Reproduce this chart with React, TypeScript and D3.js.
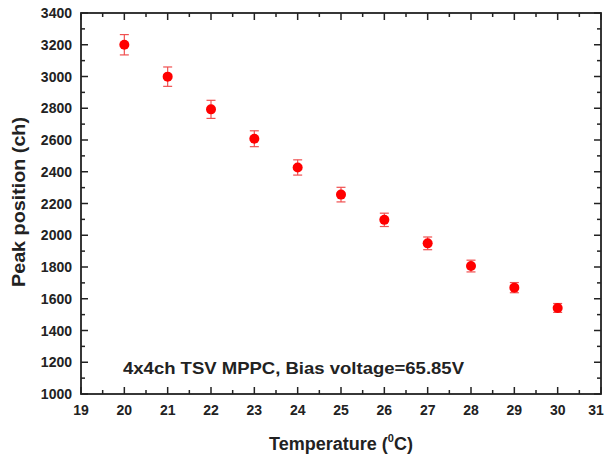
import React from "react";
import * as d3 from "d3";

const temperatures = [20, 21, 22, 23, 24, 25, 26, 27, 28, 29, 30];
const peakPositions = [3200, 2999, 2793, 2608, 2427, 2256, 2097, 1949, 1806, 1670, 1542];
const peakErrors = [64, 61, 57, 50, 48, 46, 42, 40, 37, 32, 28];
const xTicks = [19, 20, 21, 22, 23, 24, 25, 26, 27, 28, 29, 30, 31];
const yTicks = [1000, 1200, 1400, 1600, 1800, 2000, 2200, 2400, 2600, 2800, 3000, 3200, 3400];

const W = 606;
const H = 457;
const L = 81, R = 601, T = 13, B = 394;

export default function App() {
  const x = d3.scaleLinear().domain([19, 31]).range([L, R]);
  const y = d3.scaleLinear().domain([1000, 3400]).range([B, T]);
  const xMinor = d3.range(19.5, 31, 1);
  const yMinor = d3.range(1100, 3400, 200);
  const font = "'Liberation Sans', Arial, sans-serif";
  const axisColor = "#222";
  const major = 7, minor = 4;

  return (
    <svg width={W} height={H} style={{ position: "absolute", left: 0, top: 0, background: "#fff" }} fontFamily={font}>
      <rect x={0} y={0} width={W} height={H} fill="#fff" />
      {/* ticks */}
      <g stroke={axisColor} strokeWidth={1.5}>
        {xTicks.map((t) => (
          <g key={"xt" + t}>
            <line x1={x(t)} x2={x(t)} y1={B} y2={B - major} />
            <line x1={x(t)} x2={x(t)} y1={T} y2={T + major} />
          </g>
        ))}
        {xMinor.map((t) => (
          <g key={"xm" + t}>
            <line x1={x(t)} x2={x(t)} y1={B} y2={B - minor} />
            <line x1={x(t)} x2={x(t)} y1={T} y2={T + minor} />
          </g>
        ))}
        {yTicks.map((t) => (
          <g key={"yt" + t}>
            <line x1={L} x2={L + major} y1={y(t)} y2={y(t)} />
            <line x1={R} x2={R - major} y1={y(t)} y2={y(t)} />
          </g>
        ))}
        {yMinor.map((t) => (
          <g key={"ym" + t}>
            <line x1={L} x2={L + minor} y1={y(t)} y2={y(t)} />
            <line x1={R} x2={R - minor} y1={y(t)} y2={y(t)} />
          </g>
        ))}
      </g>
      <rect x={L} y={T} width={R - L} height={B - T} fill="none" stroke={axisColor} strokeWidth={1.8} />
      {/* tick labels */}
      <g fontSize={14} fontWeight="bold" fill="#222">
        {xTicks.map((t) => (
          <text key={"xl" + t} x={Math.min(x(t), 596)} y={415} textAnchor="middle">{t}</text>
        ))}
        {yTicks.map((t) => (
          <text key={"yl" + t} x={72} y={y(t) + 5} textAnchor="end">{t}</text>
        ))}
      </g>
      {/* error bars */}
      <g stroke="#f05050" strokeWidth={1.2}>
        {temperatures.map((t, i) => {
          const cx = x(t);
          const y1 = y(peakPositions[i] + peakErrors[i]);
          const y2 = y(peakPositions[i] - peakErrors[i]);
          return (
            <g key={"e" + t}>
              <line x1={cx} x2={cx} y1={y1} y2={y2} />
              <line x1={cx - 4.5} x2={cx + 4.5} y1={y1} y2={y1} />
              <line x1={cx - 4.5} x2={cx + 4.5} y1={y2} y2={y2} />
            </g>
          );
        })}
      </g>
      {/* points */}
      <g fill="#ff0000">
        {temperatures.map((t, i) => (
          <circle key={"p" + t} cx={x(t)} cy={y(peakPositions[i])} r={5} />
        ))}
      </g>
      {/* annotation */}
      <text x={123} y={374} fontSize={16.5} fontWeight="bold" fill="#222" textLength={341} lengthAdjust="spacingAndGlyphs">4x4ch TSV MPPC, Bias voltage=65.85V</text>
      {/* axis titles */}
      <text x={(L + R) / 2} y={450} textAnchor="middle" fontSize={18} fontWeight="bold" fill="#222">
        Temperature (<tspan fontSize={11} dy={-8}>0</tspan><tspan dy={8}>C)</tspan>
      </text>
      <text transform={`translate(25,202) rotate(-90)`} textAnchor="middle" fontSize={18} fontWeight="bold" fill="#222" textLength={170} lengthAdjust="spacingAndGlyphs">
        Peak position (ch)
      </text>
    </svg>
  );
}
